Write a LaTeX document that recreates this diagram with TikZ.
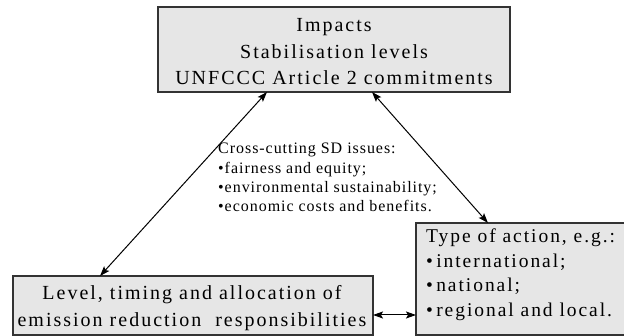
\documentclass[tikz,border=0pt]{standalone}
\usepackage{fontspec}
\setmainfont{Liberation Serif}
\newfontfamily\boxfont{Liberation Serif}[LetterSpace=10]
\newfontfamily\crossfont{Liberation Serif}[LetterSpace=6]
\usetikzlibrary{arrows.meta}
\definecolor{boxfill}{HTML}{E6E6E6}
\definecolor{boxline}{HTML}{333333}
\begin{document}
\begin{tikzpicture}[x=1pt,y=-1pt,
  box/.style={draw=boxline,line width=1.3pt,fill=boxfill,inner sep=0pt,outer sep=0pt},
  boxtext/.style={font=\boxfont\fontsize{20}{26.5}\selectfont,inner sep=0pt},
  link/.style={line width=1pt,{Stealth[length=10pt,width=7pt,inset=2pt]}-{Stealth[length=10pt,width=7pt,inset=2pt]}}]
\useasboundingbox (0,0) rectangle (624,336);
% boxes
\node[box,minimum width=352pt,minimum height=85pt] (top) at (334,49.5) {};
\node[box,minimum width=360pt,minimum height=59pt] (left) at (193,305.5) {};
\node[box,minimum width=220pt,minimum height=112pt,anchor=north west] (right) at (416,223) {};
% texts
\node[boxtext,align=center] (toptext) at (334,52) {Impacts\\Stabilisation levels\\UNFCCC Article 2 commitments};
\node[boxtext,align=center] (lefttext) at (192,308) {Level, timing and allocation of\\emission reduction\ \ responsibilities};
\node[boxtext,align=left,anchor=north west,font=\boxfont\fontsize{19.5}{24.5}\selectfont] (righttext) at (426,229) {Type of action, e.g.:\\\textbullet\,international;\\\textbullet\,national;\\\textbullet\,regional and local.};
\node[inner sep=0pt,align=left,anchor=north west,font=\crossfont\fontsize{16}{19.3}\selectfont] (cross) at (218,143) {Cross-cutting SD issues:\\\textbullet fairness and equity;\\\textbullet environmental sustainability;\\\textbullet economic costs and benefits.};
% connectors
\draw[link] (top.south -| 267,0) -- (left.north -| 100,0);
\draw[link] (top.south -| 372,0) -- (right.north -| 488,0);
\draw[link] (left.east |- 0,315) -- (right.west |- 0,315);
\end{tikzpicture}
\end{document}
